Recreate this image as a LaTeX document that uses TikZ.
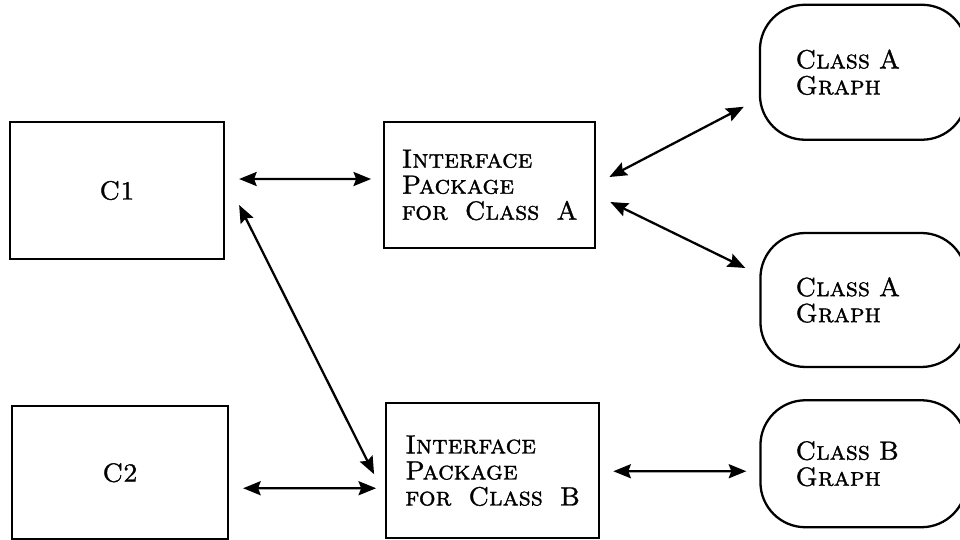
\documentclass[tikz,border=0pt]{standalone}
\usepackage{fontspec}
\newfontfamily\capsfont{lmromancaps10-regular.otf}[FakeBold=1.2, WordSpace=1.7]
\usepackage{tikz}
\usetikzlibrary{positioning, arrows.meta, calc}

\tikzset{
  unitbox/.style={draw, line width=1.3pt, inner sep=2pt, align=left,
    font=\fontsize{15}{14.8}\selectfont\capsfont},
  graphbox/.style={unitbox, rounded corners=0.9cm, text width=2.72cm},
  link/.style={{Stealth[length=10pt,width=8pt,inset=1.5pt]}-{Stealth[length=10pt,width=8pt,inset=1.5pt]}, line width=1.3pt}
}

\begin{document}
\begin{tikzpicture}[x=0.02cm, y=-0.02cm, node distance=2cm]
\useasboundingbox (0,0) rectangle (960,539);
\clip (0,0) rectangle (960,539);

\node[unitbox, minimum width=4.28cm, minimum height=2.74cm] (c1) at (117,190.5) {C1};
\node[unitbox, minimum width=4.32cm, minimum height=2.66cm, below=2.9cm of c1, xshift=0.06cm] (c2) {C2};
\node[unitbox, minimum width=4.22cm, minimum height=2.52cm, right=3.16cm of c1, yshift=0.11cm] (ifa) {Interface\\Package\\for Class A};
\node[unitbox, minimum width=4.26cm, minimum height=2.7cm, right=3.12cm of c2, yshift=0.04cm] (ifb) {Interface\\Package\\for Class B};
\node[graphbox, minimum width=4.12cm, minimum height=2.68cm, right=3.26cm of ifa, yshift=-2.3cm] (ga2) {Class A\\Graph};
\node[graphbox, minimum width=4.14cm, minimum height=2.7cm, above=1.82cm of ga2] (ga1) {Class A\\Graph};
\node[graphbox, minimum width=4.12cm, minimum height=2.54cm, right=3.18cm of ifb, yshift=0.14cm] (gb) {Class B\\Graph};

\draw[link] ($(c1.east)+(14,-11.5)$) -- ($(ifa.west)+(-12,-6)$);
\draw[link] ($(c1.east)+(14,14.5)$) -- ($(ifb.west)+(-11,3.5)$);
\draw[link] ($(c2.east)+(14,15.5)$) -- ($(ifb.west)+(-9,17.5)$);
\draw[link] ($(ifa.east)+(13,-8)$) -- ($(ga1.west)+(-15,34.5)$);
\draw[link] ($(ifa.east)+(14,17)$) -- ($(ga2.west)+(-14,-32)$);
\draw[link] ($(ifb.east)+(13,0.5)$) -- ($(gb.west)+(-13,7.5)$);
\end{tikzpicture}
\end{document}
